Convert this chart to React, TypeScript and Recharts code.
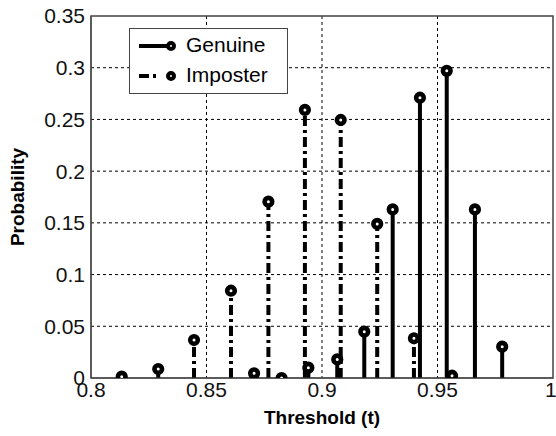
import React from 'react';
import {
  ComposedChart,
  Scatter,
  XAxis,
  YAxis,
  CartesianGrid,
  ReferenceLine,
  ReferenceArea,
} from 'recharts';

const genuineT = [0.8706, 0.8825, 0.8941, 0.9066, 0.9183, 0.9306, 0.9424, 0.954, 0.9662, 0.978];
const genuineP = [0.0045, 0.0, 0.01, 0.018, 0.0448, 0.163, 0.271, 0.297, 0.163, 0.0303];
const imposterT = [0.8133, 0.8291, 0.8446, 0.8606, 0.8768, 0.8926, 0.9081, 0.9239, 0.9398, 0.9563];
const imposterP = [0.0013, 0.0087, 0.0367, 0.0844, 0.1705, 0.2592, 0.2495, 0.149, 0.0384, 0.0022];
const xTicks = [0.8, 0.85, 0.9, 0.95, 1];
const yTicks = [0, 0.05, 0.1, 0.15, 0.2, 0.25, 0.3, 0.35];
const seriesNames = ['Genuine', 'Imposter'];

const genuineData = genuineT.map((t, i) => ({ t, p: genuineP[i] }));
const imposterData = imposterT.map((t, i) => ({ t, p: imposterP[i] }));

const FONT = "Arial, 'Liberation Sans', Helvetica, sans-serif";
const DASHDOT = '10 4 3 4';

const Marker = (props: any) => {
  const { cx, cy } = props;
  if (cx == null || cy == null) return null;
  return <circle cx={cx} cy={cy} r={3.8} fill="#fff" stroke="#000" strokeWidth={4.6} />;
};

const LegendBox = () => (
  <div
    style={{
      position: 'absolute',
      left: 129,
      top: 28,
      width: 159,
      height: 66,
      border: '1.5px solid #444',
      background: '#fff',
      boxSizing: 'border-box',
      fontFamily: FONT,
      fontSize: 21,
      color: '#000',
    }}
  >
    <svg width={50} height={64} style={{ position: 'absolute', left: 0, top: 0 }}>
      <line x1={9} y1={17} x2={41} y2={17} stroke="#000" strokeWidth={4} />
      <circle cx={41} cy={17} r={3} fill="#fff" stroke="#000" strokeWidth={4} />
      <line x1={9} y1={47} x2={41} y2={47} stroke="#000" strokeWidth={4} strokeDasharray="10 4 3 30" />
      <circle cx={41} cy={47} r={3} fill="#fff" stroke="#000" strokeWidth={4} />
    </svg>
    <div style={{ position: 'absolute', left: 56, top: 4, lineHeight: '24px' }}>{seriesNames[0]}</div>
    <div style={{ position: 'absolute', left: 56, top: 34, lineHeight: '24px' }}>{seriesNames[1]}</div>
  </div>
);

export default function App() {
  return (
    <div style={{ position: 'absolute', left: 0, top: 0, width: 556, height: 436, background: '#fff' }}>
      <ComposedChart
        width={556}
        height={436}
        margin={{ top: 16, right: 3, bottom: 0, left: 0 }}
        style={{ fontFamily: FONT }}
      >
        <CartesianGrid
          stroke="#000"
          strokeDasharray="3 3"
          strokeWidth={1}
          horizontalValues={[0.05, 0.1, 0.15, 0.2, 0.25, 0.3]}
          verticalValues={[0.85, 0.9, 0.95]}
        />
        <XAxis
          type="number"
          dataKey="t"
          domain={[0.8, 1]}
          ticks={xTicks}
          tickFormatter={(v: number) => String(v)}
          height={58}
          stroke="#444"
          tickLine={false}
          tickSize={0}
          tickMargin={4}
          tick={{ fill: '#111', fontSize: 21, fontFamily: FONT }}
          allowDataOverflow
          label={{
            value: 'Threshold (t)',
            position: 'insideBottom',
            offset: 12,
            style: { fontWeight: 'bold', fontSize: 19, fill: '#000', fontFamily: FONT },
          }}
        />
        <YAxis
          type="number"
          dataKey="p"
          domain={[0, 0.35]}
          ticks={yTicks}
          tickFormatter={(v: number) => String(v)}
          width={91}
          stroke="#444"
          tickLine={false}
          tickSize={0}
          tickMargin={6}
          tick={{ fill: '#111', fontSize: 21, fontFamily: FONT }}
          allowDataOverflow
          label={{
            value: 'Probability',
            angle: -90,
            position: 'insideLeft',
            offset: 17,
            style: { fontWeight: 'bold', fontSize: 19, fill: '#000', fontFamily: FONT, textAnchor: 'middle' },
          }}
        />
        <ReferenceArea x1={0.8} x2={1} y1={0} y2={0.35} fill="none" stroke="#444" strokeWidth={1.5} />
        {imposterData.map((d, i) => (
          <ReferenceLine
            key={'i' + i}
            segment={[{ x: d.t, y: 0 }, { x: d.t, y: d.p }]}
            stroke="#000"
            strokeWidth={4}
            strokeDasharray={DASHDOT}
          />
        ))}
        {genuineData.map((d, i) => (
          <ReferenceLine
            key={'g' + i}
            segment={[{ x: d.t, y: 0 }, { x: d.t, y: d.p }]}
            stroke="#000"
            strokeWidth={4}
          />
        ))}
        <Scatter name={seriesNames[1]} data={imposterData} shape={<Marker />} isAnimationActive={false} />
        <Scatter name={seriesNames[0]} data={genuineData} shape={<Marker />} isAnimationActive={false} />
      </ComposedChart>
      <LegendBox />
    </div>
  );
}
